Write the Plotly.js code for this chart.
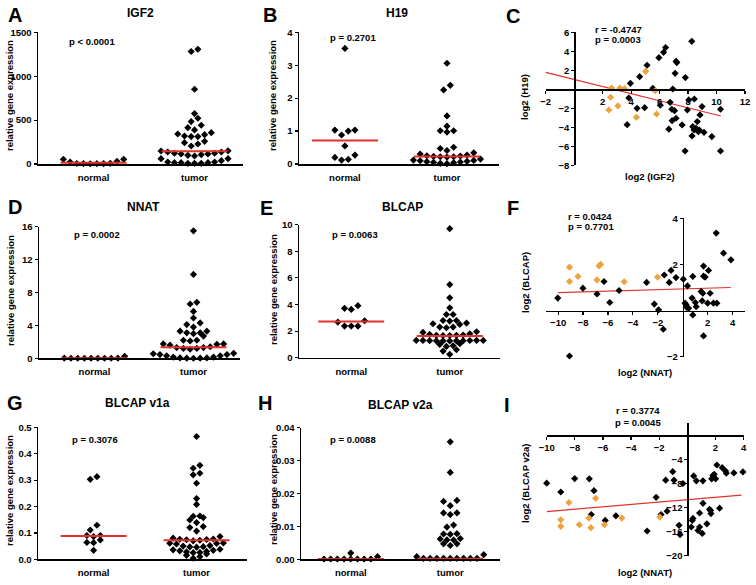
<!DOCTYPE html>
<html><head><meta charset="utf-8">
<script src="https://cdn.plot.ly/plotly-3.0.1.min.js"></script>
<style>html,body{margin:0;padding:0;background:#fff}</style>
</head><body><div id="chart" style="width:756px;height:585px"></div>
<script>
// ---------------- DATA ----------------
const categories = ['normal', 'tumor'];

const igf2Normal = [53, 23, 8, 5, 4, 3, 5, 6, 30, 53];
const igf2Tumor = [1307, 1281, 851, 574, 521, 483, 441, 414, 388, 357, 342, 334, 319, 312, 312, 258, 243, 228, 205, 150, 148, 137, 137, 122, 122, 114, 114, 106, 99, 91, 61, 61, 38, 23, 23, 15, 15, 15, 8, 8, 8];
const igf2Medians = [15, 145];
const igf2Ticks = [0, 500, 1000, 1500];

const h19Normal = [3.51, 1.03, 1.03, 1.0, 0.88, 0.55, 0.27, 0.2, 0.14, 0.12];
const h19Tumor = [3.06, 2.39, 2.25, 1.46, 1.15, 1.01, 1.01, 0.97, 0.51, 0.47, 0.41, 0.34, 0.30, 0.27, 0.25, 0.24, 0.23, 0.22, 0.22, 0.21, 0.15, 0.12, 0.11, 0.10, 0.08, 0.07, 0.06, 0.05, 0.04, 0.02, 0.01];
const h19Medians = [0.71, 0.23];
const h19Ticks = [0, 1, 2, 3, 4];

const nnatNormal = [0.25, 0.02, 0.01, 0.01, 0.01, 0.01, 0.01, 0.01, 0.01, 0.02];
const nnatTumor = [15.5, 10.2, 6.8, 6.6, 5.7, 4.9, 4.3, 4.1, 3.8, 3.3, 3.3, 3.1, 3.1, 3.0, 2.7, 2.2, 2.2, 2.1, 1.75, 1.75, 1.7, 1.6, 1.4, 1.3, 1.3, 1.2, 1.2, 1.1, 0.6, 0.55, 0.45, 0.3, 0.15, 0.05, 0.02, 0.01, 0.02, 0.05, 0.15, 0.3, 0.45];
const nnatMedians = [0.01, 1.34];
const nnatTicks = [0, 4, 8, 12, 16];

const blcapNormal = [3.91, 3.71, 3.63, 2.78, 2.68, 2.38, 2.38, 2.38];
const blcapTumor = [9.7, 5.5, 4.5, 3.75, 3.25, 3.25, 2.8, 2.8, 2.75, 2.6, 2.55, 2.5, 2.3, 2.3, 2.25, 1.95, 1.9, 1.8, 1.75, 1.7, 1.68, 1.68, 1.67, 1.67, 1.3, 1.3, 1.3, 1.3, 1.29, 1.28, 1.28, 1.27, 1.27, 1.26, 1.26, 1.05, 1.0, 0.9, 0.85, 0.6, 0.5, 0.25];
const blcapMedians = [2.73, 1.63];
const blcapTicks = [0, 2, 4, 6, 8, 10];

const v1aNormal = [0.313, 0.303, 0.129, 0.111, 0.09, 0.09, 0.086, 0.073, 0.064, 0.063, 0.034];
const v1aTumor = [0.465, 0.356, 0.345, 0.326, 0.32, 0.288, 0.23, 0.208, 0.164, 0.163, 0.158, 0.149, 0.139, 0.124, 0.12, 0.107, 0.086, 0.08, 0.077, 0.076, 0.075, 0.074, 0.072, 0.07, 0.062, 0.061, 0.06, 0.058, 0.052, 0.05, 0.048, 0.047, 0.046, 0.038, 0.036, 0.034, 0.032, 0.03, 0.028, 0.026, 0.025, 0.02, 0.015, 0.01, 0.004];
const v1aMedians = [0.088, 0.072];
const v1aTicks = [0, 0.1, 0.2, 0.3, 0.4, 0.5];
const v1aTickText = ['0.0', '0.1', '0.2', '0.3', '0.4', '0.5'];

const v2aNormal = [0.0019, 0.0001, 0.0001, 0.0001, 0.0001, 0.0001, 0.0001, 0.0001, 0.0001, 0.0008];
const v2aTumor = [0.0357, 0.0264, 0.0179, 0.0176, 0.0163, 0.0141, 0.0141, 0.0136, 0.0104, 0.0098, 0.0078, 0.0077, 0.0076, 0.0063, 0.0062, 0.0059, 0.0059, 0.0047, 0.0047, 0.0042, 0.0014, 0.0008, 0.0003, 0.0003, 0.0003, 0.0003, 0.0003, 0.0003, 0.0003, 0.0003, 0.0003];
const v2aMedians = [0.0001, 0.0002];
const v2aTicks = [0, 0.01, 0.02, 0.03, 0.04];
const v2aTickText = ['0.00', '0.01', '0.02', '0.03', '0.04'];

// C: log2(IGF2) vs log2(H19)
const cBlackX = [8.26, 6.42, 6.28, 5.95, 7.16, 7.21, 5.12, 4.6, 7.09, 7.81, 3.95, 5.53, 6.93, 3.84, 8.05, 8.44, 6.05, 6.74, 4.42, 4.95, 6.86, 7.05, 7.95, 8.98, 10.28, 3.72, 6.88, 7.16, 8.84, 8.65, 6.65, 7.58, 8.33, 8.42, 8.56, 8.72, 8.79, 9.12, 8.28, 9.67, 7.79, 10.28];
const cBlackY = [5.05, 4.39, 3.89, 3.33, 2.95, 2.81, 2.53, 1.33, 1.68, 1.23, 0.63, 0.1, 0.03, -0.91, -1.12, -1.02, -1.68, -1.37, -2.0, -1.93, -2.1, -2.25, -2.18, -1.82, -2.1, -3.72, -3.3, -3.05, -2.7, -3.4, -4.2, -3.75, -3.93, -4.28, -4.1, -4.46, -4.28, -4.53, -4.91, -4.98, -6.49, -6.49];
const cOrangeX = [2.63, 3.21, 3.53, 5.02, 5.7, 2.56, 3.07, 2.44, 4.37, 5.79];
const cOrangeY = [0.14, 0.14, 0.07, 1.89, -0.14, -0.84, -1.75, -2.18, -2.95, -2.6];
const cFitX = [-2, 10.3];
const cFitY = [1.78, -2.81];
const cXTicks = [-2, 2, 4, 6, 8, 10, 12];
const cYTicks = [-8, -6, -4, -2, 2, 4, 6];

// F: log2(NNAT) vs log2(BLCAP)
const fBlackX = [-10.03, -9.09, -8.01, -6.88, -6.32, -5.86, -5.11, -2.9, -2.28, -1.94, -1.56, -1.48, -1.08, -0.94, -0.54, 0.05, 0.19, 0.27, 0.32, 0.38, 0.48, 0.81, 0.75, 0.81, 1.02, 1.08, 1.48, 1.56, 1.61, 1.67, 1.67, 1.8, 1.67, 2.0, 2.07, 2.2, 2.47, 2.74, 2.69, 3.28, 3.87];
const fBlackY = [0.54, -1.97, 0.97, 0.72, 1.26, 0.35, 0.87, 1.22, 0.28, 0.03, -0.81, 1.54, 1.22, 1.74, 1.43, 1.36, 0.32, 0.25, 0.14, 1.07, 0.1, 1.48, 0.54, -0.19, 0.35, 0.17, 0.83, 0.42, 0.75, 1.93, 1.49, 1.45, -1.1, 0.32, 1.74, 0.75, 0.32, 0.32, 3.36, 2.49, 2.2];
const fOrangeX = [-9.09, -9.09, -8.41, -6.72, -6.59, -6.88, -4.7, -2.02];
const fOrangeY = [1.88, 1.26, 1.48, 1.94, 2.0, 1.33, 1.25, 1.45];
const fFitX = [-10, 3.85];
const fFitY = [0.78, 1.0];
const fXTicks = [-10, -8, -6, -4, -2, 2, 4];
const fYTicks = [-2, 2, 4];

// I: log2(NNAT) vs log2(BLCAP v2a)
const iBlackX = [-10, -9.0, -8.01, -6.97, -6.64, -6.83, -5.84, -5.08, -2.86, -2.22, -1.87, -1.44, -1.54, -1.04, -0.95, -0.52, -0.59, -0.31, 0.45, 0.64, 1.11, 0.28, 0.35, 0.4, 0.76, 0.87, 1.06, 1.11, 0.87, 1.39, 1.58, 1.65, 1.68, 1.73, 1.82, 1.91, 2.01, 2.1, 2.29, 2.48, 2.72, 2.77, 3.31, 3.95];
const iBlackY = [-7.95, -9.42, -7.18, -7.23, -9.2, -13.15, -14.14, -13.37, -15.9, -10.3, -13.15, -12.6, -7.45, -6.03, -7.45, -16.5, -14.96, -8.0, -6.74, -7.56, -7.56, -15.23, -14.14, -13.8, -15.8, -15.23, -16.3, -11.3, -12.9, -14.7, -12.3, -12.5, -13.0, -7.23, -6.68, -6.47, -7.23, -4.93, -12.1, -5.37, -5.92, -6.3, -6.25, -6.08];
const iOrangeX = [-6.52, -8.42, -9.0, -9.0, -7.68, -7.0, -6.86, -5.89, -4.66, -1.96];
const iOrangeY = [-10.47, -11.18, -14.03, -15.12, -14.85, -13.75, -15.34, -14.85, -13.75, -13.59];
const iFitX = [-10, 3.85];
const iFitY = [-12.66, -9.92];
const iXTicks = [-10, -8, -6, -4, -2, 2, 4];
const iYTicks = [-20, -16, -12, -8, -4];

// ---------------- DRAWING ----------------
const W = 756, H = 585;
const FONT = 'Liberation Sans, Arial, sans-serif';
const BLACK = '#000000', ORANGE = '#eea13c', RED = '#e0312b';
const MSIZE = 5.5;
const traces = [];
const annotations = [];
const layout = {
  width: W, height: H, margin: {l: 0, r: 0, t: 0, b: 0},
  showlegend: false, paper_bgcolor: '#ffffff', plot_bgcolor: 'rgba(0,0,0,0)',
  annotations: annotations
};
let axN = 0;
function tickFont() { return {family: FONT, size: 9.5, color: '#000', weight: 'bold'}; }
function addAxes(box, xr, yr) {
  axN++;
  const s = axN === 1 ? '' : String(axN);
  const common = {showgrid: false, zeroline: false, showline: true, linecolor: '#000', linewidth: 1.5,
    fixedrange: true, ticks: 'outside', ticklen: 3, tickwidth: 1.2, tickcolor: '#000'};
  const xa = Object.assign({domain: [box.x0 / W, box.x1 / W], range: xr, anchor: 'y' + s}, common);
  const ya = Object.assign({domain: [1 - box.y1 / H, 1 - box.y0 / H], range: yr, anchor: 'x' + s}, common);
  xa.tickfont = tickFont(); ya.tickfont = tickFont();
  layout['xaxis' + s] = xa; layout['yaxis' + s] = ya;
  return {xa, ya, xref: 'x' + s, yref: 'y' + s, box,
    pxX: (box.x1 - box.x0) / (xr[1] - xr[0]), pxY: (box.y1 - box.y0) / (yr[1] - yr[0])};
}
// Prism-like row swarm: values grouped into rows of ~marker height, spread horizontally
const DOT = 6.7, ROW = 5.4;
function swarmX(vals, center, pxX, pxY) {
  const order = vals.map((v, i) => i).sort((a, b) => vals[a] - vals[b]);
  const xs = new Array(vals.length);
  let k = 0;
  while (k < order.length) {
    const start = vals[order[k]];
    const row = [];
    while (k < order.length && (vals[order[k]] - start) * pxY < ROW) { row.push(order[k]); k++; }
    const n = row.length;
    const slots = [...Array(n).keys()].map(j => j - (n - 1) / 2).sort((a, b) => Math.abs(a) - Math.abs(b) || a - b);
    row.forEach((i, j) => { xs[i] = center + slots[j] * DOT / pxX; });
  }
  return xs;
}
function ann(text, xpx, ypx, o) {
  o = o || {};
  annotations.push(Object.assign({
    text: text, x: xpx / W, y: 1 - ypx / H, xref: 'paper', yref: 'paper', showarrow: false,
    xanchor: 'center', yanchor: 'middle',
    font: {family: FONT, size: o.size || 9.5, color: '#000', weight: o.weight || 'bold'}
  }, o.extra || {}));
}
function dotPanel(box, xr, yr, ticks, tickText, normal, tumor, medians) {
  const ax = addAxes(box, xr, yr);
  ax.xa.tickvals = [0, 1]; ax.xa.ticktext = categories; ax.xa.ticklen = 4; ax.xa.tickcolor = 'rgba(0,0,0,0)';
  ax.xa.tickfont = {family: FONT, size: 9.5, color: '#000', weight: 'bold'};
  ax.ya.tickvals = ticks; ax.ya.ticktext = tickText || ticks.map(String);
  [normal, tumor].forEach((vals, ci) => {
    traces.push({type: 'scatter', mode: 'markers', x: swarmX(vals, ci, ax.pxX, ax.pxY), y: vals,
      xaxis: ax.xref, yaxis: ax.yref, cliponaxis: false, hoverinfo: 'skip',
      marker: {symbol: 'diamond', size: MSIZE, color: BLACK, line: {width: 0}}});
  });
  const half = 33 / ax.pxX;
  medians.forEach((m, ci) => {
    traces.push({type: 'scatter', mode: 'lines', x: [ci - half, ci + half], y: [m, m],
      xaxis: ax.xref, yaxis: ax.yref, cliponaxis: false, hoverinfo: 'skip',
      line: {color: RED, width: 2}});
  });
}
function scatterPanel(box, xr, yr, xt, yt, bx, by, ox, oy, fx, fy) {
  const ax = addAxes(box, xr, yr);
  const y0px = box.y1 - (0 - yr[0]) * ax.pxY;
  const x0px = box.x0 + (0 - xr[0]) * ax.pxX;
  ax.xa.anchor = 'free'; ax.xa.position = 1 - y0px / H;
  ax.ya.anchor = 'free'; ax.ya.position = x0px / W;
  ax.xa.tickvals = xt; ax.ya.tickvals = yt;
  traces.push({type: 'scatter', mode: 'lines', x: fx, y: fy, xaxis: ax.xref, yaxis: ax.yref,
    cliponaxis: false, hoverinfo: 'skip', line: {color: RED, width: 1.2}});
  traces.push({type: 'scatter', mode: 'markers', x: bx, y: by, xaxis: ax.xref, yaxis: ax.yref,
    cliponaxis: false, hoverinfo: 'skip', marker: {symbol: 'diamond', size: MSIZE, color: BLACK, line: {width: 0}}});
  traces.push({type: 'scatter', mode: 'markers', x: ox, y: oy, xaxis: ax.xref, yaxis: ax.yref,
    cliponaxis: false, hoverinfo: 'skip', marker: {symbol: 'diamond', size: MSIZE, color: ORANGE, line: {width: 0}}});
}

// Row 1
dotPanel({x0: 38, x1: 243, y0: 32.3, y1: 164}, [-0.55, 1.48], [0, 1500], igf2Ticks, null, igf2Normal, igf2Tumor, igf2Medians);
dotPanel({x0: 299, x1: 499, y0: 32.3, y1: 164}, [-0.45, 1.51], [0, 4], h19Ticks, null, h19Normal, h19Tumor, h19Medians);
scatterPanel({x0: 545.7, x1: 745, y0: 32.3, y1: 165.3}, [-2, 12], [-8, 6], cXTicks, cYTicks, cBlackX, cBlackY, cOrangeX, cOrangeY, cFitX, cFitY);
// Row 2
dotPanel({x0: 39, x1: 240, y0: 226.7, y1: 358.3}, [-0.56, 1.47], [0, 16], nnatTicks, null, nnatNormal, nnatTumor, nnatMedians);
dotPanel({x0: 299, x1: 500, y0: 224.7, y1: 357.7}, [-0.53, 1.51], [0, 10], blcapTicks, null, blcapNormal, blcapTumor, blcapMedians);
scatterPanel({x0: 545.7, x1: 745, y0: 218.3, y1: 356.7}, [-11, 5], [-2, 4], fXTicks, fYTicks, fBlackX, fBlackY, fOrangeX, fOrangeY, fFitX, fFitY);
// Row 3
dotPanel({x0: 38, x1: 247, y0: 427.3, y1: 559.3}, [-0.54, 1.49], [0, 0.5], v1aTicks, v1aTickText, v1aNormal, v1aTumor, v1aMedians);
dotPanel({x0: 301, x1: 500, y0: 427.7, y1: 559.3}, [-0.5, 1.5], [0, 0.04], v2aTicks, v2aTickText, v2aNormal, v2aTumor, v2aMedians);
scatterPanel({x0: 546.7, x1: 744.3, y0: 423.3, y1: 555.7}, [-10, 4.05], [-20, 2], iXTicks, iYTicks, iBlackX, iBlackY, iOrangeX, iOrangeY, iFitX, iFitY);

// Panel letters
[['A', 15, 15], ['B', 270, 15], ['C', 513, 16], ['D', 15, 207], ['E', 266, 208], ['F', 513, 208], ['G', 15, 403], ['H', 265, 403], ['I', 507, 405]]
  .forEach(l => ann(l[0], l[1], l[2], {size: 20}));
// Panel titles
[['IGF2', 140, 13], ['H19', 397, 13], ['NNAT', 143, 207], ['BLCAP', 403, 207], ['BLCAP v1a', 137, 403], ['BLCAP v2a', 400, 405]]
  .forEach(t => ann(t[0], t[1], t[2], {size: 12}));
// p-values for dot plots
[['p &lt; 0.0001', 92, 42], ['p = 0.2701', 353, 38], ['p = 0.0002', 97, 234], ['p = 0.0063', 355, 234], ['p = 0.3076', 95, 439], ['p = 0.0088', 353, 439]]
  .forEach(t => ann(t[0], t[1], t[2], {size: 9.5}));
// correlation stats
ann('r = -0.4747', 593, 29, {extra: {xanchor: 'left'}});
ann('p = 0.0003', 593, 40, {extra: {xanchor: 'left'}});
ann('r = 0.0424', 566, 216, {extra: {xanchor: 'left'}});
ann('p = 0.7701', 566, 227, {extra: {xanchor: 'left'}});
ann('r = 0.3774', 638, 410);
ann('p = 0.0045', 638, 422);
// y-axis titles
[[10, 96], [273, 96], [10, 291], [273, 290], [9, 491], [273, 490]]
  .forEach(p => ann('relative gene expression', p[0], p[1], {size: 9.5, extra: {textangle: -90}}));
ann('log2 (H19)', 525, 97, {extra: {textangle: -90}});
ann('log2 (BLCAP)', 525, 283, {extra: {textangle: -90}});
ann('log2 (BLCAP v2a)', 525, 483, {extra: {textangle: -90}});
// x-axis titles of scatter panels
ann('log2 (IGF2)', 650, 176);
ann('log2 (NNAT)', 645, 372);
ann('log2 (NNAT)', 645, 572);

Plotly.newPlot('chart', traces, layout, {staticPlot: true, displayModeBar: false});
</script>
</body></html>
